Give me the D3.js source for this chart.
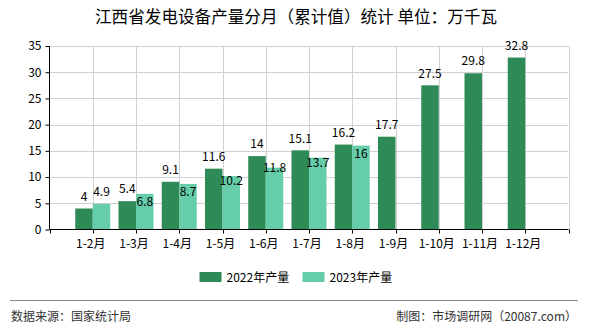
<!DOCTYPE html>
<html><head><meta charset="utf-8">
<script src="https://cdn.jsdelivr.net/npm/d3@7/dist/d3.min.js"></script>
<style>
body{margin:0;background:#fff;}
svg{display:block;font-family:"SimSun","Noto Sans CJK SC",sans-serif;}
</style></head>
<body><svg id="c" width="590" height="330"></svg>
<script>
const categories = ["1-2月","1-3月","1-4月","1-5月","1-6月","1-7月","1-8月","1-9月","1-10月","1-11月","1-12月"];
const series2022 = [4,5.4,9.1,11.6,14,15.1,16.2,17.7,27.5,29.8,32.8];
const series2023 = [4.9,6.8,8.7,10.2,11.8,13.7,16,null,null,null,null];
const yTicks = [0,5,10,15,20,25,30,35];
const seriesNames = ["2022年产量","2023年产量"];
const colors = ["#2e8b57","#66cdaa"];

const svg = d3.select("#c");
const L = 49.5, R = 568.5, T = 46, B = 229.5;
const x = d3.scaleLinear().domain([0, categories.length + 1]).range([L, R]);
const y = d3.scaleLinear().domain([0, 35]).range([B, T]);
const bw = 17.5;

// title
svg.append("text").attr("x", 296).attr("y", 23).attr("text-anchor","middle")
  .attr("font-size", 16.6).attr("fill","#000").text("江西省发电设备产量分月（累计值）统计 单位：万千瓦");

// grid
const g = svg.append("g");
g.selectAll(".hg").data(yTicks.filter(d=>d>0)).join("line")
  .attr("x1", L).attr("x2", R).attr("y1", d=>Math.round(y(d))+0.5).attr("y2", d=>Math.round(y(d))+0.5)
  .attr("stroke","#d0d0d0");
const vt = d3.range(1, categories.length + 2);
g.selectAll(".vg").data(vt).join("line")
  .attr("x1", d=>Math.round(x(d))+0.5).attr("x2", d=>Math.round(x(d))+0.5).attr("y1", T).attr("y2", B)
  .attr("stroke","#d0d0d0");

// bars
categories.forEach((c,i)=>{
  const cx = x(i+1);
  if (series2022[i] != null) g.append("rect").attr("x", cx - bw).attr("width", bw)
    .attr("y", y(series2022[i])).attr("height", B - y(series2022[i])).attr("fill", colors[0]);
  if (series2023[i] != null) g.append("rect").attr("x", cx).attr("width", bw)
    .attr("y", y(series2023[i])).attr("height", B - y(series2023[i])).attr("fill", colors[1]);
});

// axes
const ya = d3.axisLeft(y).tickValues(yTicks).tickSize(4).tickPadding(4);
const yg = svg.append("g").attr("transform", `translate(${L},0)`).call(ya);
yg.select(".domain").remove();
yg.append("line").attr("x1",0).attr("x2",0).attr("y1",T).attr("y2",B).attr("stroke","#000");
yg.selectAll("text").attr("font-size", 12).attr("fill","#000").attr("font-family","SimSun,'Noto Sans CJK SC',sans-serif");
yg.selectAll(".tick line").attr("stroke","#000");

const xg = svg.append("g");
xg.append("line").attr("x1", L).attr("x2", R).attr("y1", B).attr("y2", B).attr("stroke","#000");
xg.selectAll(".xt").data(d3.range(0, categories.length + 2)).join("line")
  .attr("x1", d=>Math.round(x(d))+0.5).attr("x2", d=>Math.round(x(d))+0.5).attr("y1", B).attr("y2", B+4).attr("stroke","#000");
xg.selectAll(".xl").data(categories).join("text")
  .attr("x", (d,i)=>x(i+1) - 2).attr("y", B + 18).attr("text-anchor","middle")
  .attr("font-size", 12).attr("fill","#000").text(d=>d);

// labels
const lab = svg.append("g").attr("font-size", 12).attr("fill","#000").attr("text-anchor","middle");
const placed = [];
const cw = 6.6;
categories.forEach((c,i)=>{
  const v = series2022[i];
  if (v == null) return;
  const cx = x(i+1) - bw/2, cy = y(v) - 12;
  placed.push({cx, cy, w: String(v).length*cw});
  lab.append("text").attr("x", cx).attr("y", cy).attr("dy","0.35em").text(v);
});
categories.forEach((c,i)=>{
  const v = series2023[i];
  if (v == null) return;
  const cx = x(i+1) + bw/2, w = String(v).length*cw;
  let cy = y(v) - 12;
  const p = placed[i];
  if (Math.abs(p.cx - cx) < (p.w + w)/2 && Math.abs(p.cy - cy) < 14) cy = Math.min(y(v) + 8, p.cy + 24);
  lab.append("text").attr("x", cx).attr("y", cy).attr("dy","0.35em").text(v);
});

// legend
const lg = svg.append("g");
const lx = [199.5, 302.5];
seriesNames.forEach((n,i)=>{
  lg.append("rect").attr("x", lx[i]).attr("y", 272).attr("width", 22).attr("height", 10).attr("fill", colors[i]);
  lg.append("text").attr("x", lx[i] + 27).attr("y", 281.5).attr("font-size", 12).attr("fill","#000")
    .attr("font-family","'Noto Sans CJK SC',sans-serif").text(n);
});

// footer
svg.append("line").attr("x1", 10).attr("x2", 578).attr("y1", 300.5).attr("y2", 300.5).attr("stroke","#888").attr("stroke-width",1.2);
svg.append("text").attr("x", 11).attr("y", 321).attr("font-size", 12).attr("fill","#333").text("数据来源：国家统计局");
svg.append("text").attr("x", 577).attr("y", 321).attr("font-size", 12).attr("fill","#333").attr("text-anchor","end").text("制图：市场调研网（20087.com）");
</script></body></html>
